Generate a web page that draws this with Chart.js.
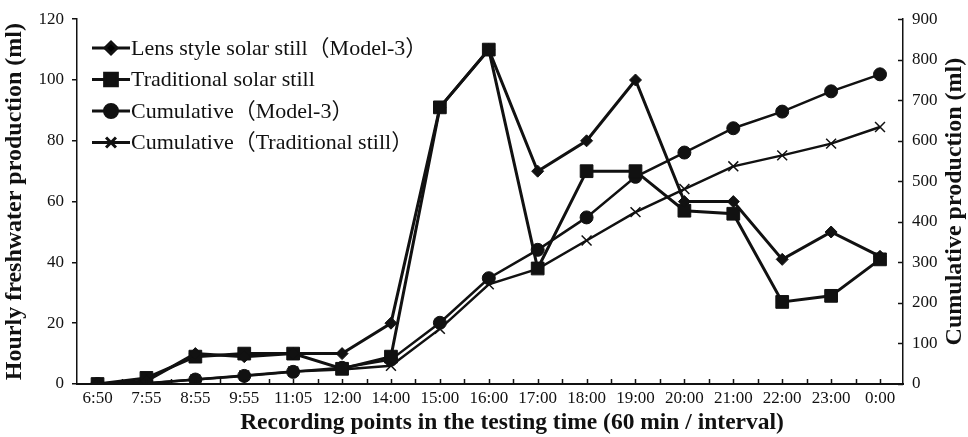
<!DOCTYPE html>
<html>
<head>
<meta charset="utf-8">
<script src="https://cdn.jsdelivr.net/npm/chart.js@4"></script>
<style>
  html, body { margin: 0; padding: 0; background: #fff; }
  #wrap { width: 968px; height: 437px; }
</style>
</head>
<body>
<div id="wrap"><canvas id="chart" width="968" height="437"></canvas></div>
<script>
// ====== DATA ======
const TIMES = ["6:50","7:55","8:55","9:55","11:05","12:00","14:00","15:00","16:00",
  "17:00","18:00","19:00","20:00","21:00","22:00","23:00","0:00"];

const LENS_HOURLY = [0, 1, 10, 9, 10, 10, 20, 91, 110, 70, 80, 100, 60, 60, 41, 50, 42];
const TRAD_HOURLY = [0, 2, 9, 10, 10, 5, 9, 91, 110, 38, 70, 70, 57, 56, 27, 29, 41];
const LENS_CUMUL = [0, 1, 11, 20, 30, 40, 60, 151, 261, 331, 411, 511, 571, 631, 672, 722, 764];
const TRAD_CUMUL = [0, 2, 11, 21, 31, 36, 45, 136, 246, 284, 354, 424, 481, 537, 564, 593, 634];

const LEFT_TICKS = [0, 20, 40, 60, 80, 100, 120];
const RIGHT_TICKS = [0, 100, 200, 300, 400, 500, 600, 700, 800, 900];

const X_TITLE = "Recording points in the testing time (60 min / interval)";
const RIGHT_TITLE = "Cumulative production (ml)";

const SERIF = "'Liberation Serif', 'Times New Roman', 'Noto Sans CJK SC', serif";
const INK = "#111";

const pts = (arr) => arr.map((v, i) => ({ x: i, y: v }));

// inward ticks on bottom + right axes, and the two titles Chart.js can't place like the original
const axisExtras = {
  id: "axisExtras",
  afterDraw(chart) {
    const { ctx, chartArea } = chart;
    const xs = chart.scales.x, yr = chart.scales.y1;
    ctx.save();
    ctx.strokeStyle = INK;
    ctx.lineWidth = 1.5;
    ctx.beginPath();
    for (let i = 0; i <= (TIMES.length - 1) * 2; i++) {
      const px = Math.round(xs.getPixelForValue(i / 2)) + 0.5;
      ctx.moveTo(px, chartArea.bottom);
      ctx.lineTo(px, chartArea.bottom - 5);
    }
    RIGHT_TICKS.forEach(v => {
      const py = Math.round(yr.getPixelForValue(v)) + 0.5;
      ctx.moveTo(chartArea.right, py);
      ctx.lineTo(chartArea.right - 5, py);
    });
    ctx.stroke();

    ctx.fillStyle = INK;
    ctx.textAlign = "center";
    ctx.textBaseline = "middle";

    ctx.font = "bold 23.5px " + SERIF;
    ctx.fillText(X_TITLE, 512, 423);

    ctx.translate(955, (chartArea.top + chartArea.bottom) / 2);
    ctx.rotate(-Math.PI / 2);
    ctx.font = "bold 24px " + SERIF;
    ctx.fillText(RIGHT_TITLE, 0, 0);
    ctx.restore();
  }
};

// legend drawn inside the plot, top-left
const innerLegend = {
  id: "innerLegend",
  afterDatasetsDraw(chart) {
    const { ctx } = chart;
    const x0 = 92, x1 = 130, top = 48, gap = 31.5;
    ctx.save();
    chart.data.datasets.forEach((ds, i) => {
      const y = top + i * gap;
      ctx.strokeStyle = INK;
      ctx.lineWidth = 3;
      ctx.beginPath();
      ctx.moveTo(x0, y);
      ctx.lineTo(x1, y);
      ctx.stroke();
      Chart.helpers.drawPoint(ctx, {
        pointStyle: ds.pointStyle,
        radius: ds.pointRadius,
        borderWidth: ds.pointBorderWidth
      }, (x0 + x1) / 2, y);
      ctx.fillStyle = INK;
      ctx.font = "22px " + SERIF;
      ctx.textBaseline = "middle";
      ctx.fillText(ds.label, x1 + 1, y + 1);
    });
    ctx.restore();
  }
};

const ctx = document.getElementById("chart").getContext("2d");

new Chart(ctx, {
  type: "line",
  data: {
    datasets: [
      {
        label: "Lens style solar still（Model-3）",
        data: pts(LENS_HOURLY),
        yAxisID: "y",
        borderColor: INK, backgroundColor: INK,
        borderWidth: 3,
        pointStyle: "rectRot", pointRadius: 6,
        pointBackgroundColor: INK, pointBorderColor: INK, pointBorderWidth: 1
      },
      {
        label: "Traditional solar still",
        data: pts(TRAD_HOURLY),
        yAxisID: "y",
        borderColor: INK, backgroundColor: INK,
        borderWidth: 3,
        pointStyle: "rect", pointRadius: 9,
        pointBackgroundColor: INK, pointBorderColor: INK, pointBorderWidth: 1
      },
      {
        label: "Cumulative（Model-3）",
        data: pts(LENS_CUMUL),
        yAxisID: "y1",
        borderColor: INK, backgroundColor: INK,
        borderWidth: 2.5,
        pointStyle: "circle", pointRadius: 6.5,
        pointBackgroundColor: INK, pointBorderColor: INK, pointBorderWidth: 1
      },
      {
        label: "Cumulative（Traditional still）",
        data: pts(TRAD_CUMUL),
        yAxisID: "y1",
        borderColor: INK, backgroundColor: INK,
        borderWidth: 2.5,
        pointStyle: "crossRot", pointRadius: 7,
        pointBackgroundColor: INK, pointBorderColor: INK, pointBorderWidth: 1.5
      }
    ]
  },
  options: {
    responsive: false,
    animation: false,
    layout: { padding: { top: 12, left: 0, right: 0, bottom: 0 } },
    plugins: {
      legend: { display: false },
      tooltip: { enabled: false }
    },
    elements: { line: { tension: 0 } },
    scales: {
      x: {
        type: "linear",
        min: -0.42,
        max: 16.47,
        afterBuildTicks: (s) => { s.ticks = TIMES.map((t, i) => ({ value: i })); },
        afterFit: (s) => { s.height = 53; },
        ticks: {
          autoSkip: false, maxRotation: 0, padding: 4,
          color: INK, font: { family: SERIF, size: 17 },
          callback: (v) => TIMES[v] ?? ""
        },
        grid: { drawOnChartArea: false, drawTicks: false },
        border: { display: true, color: INK, width: 2 },
        title: { display: false }
      },
      y: {
        position: "left",
        min: 0, max: 120,
        afterBuildTicks: (s) => { s.ticks = LEFT_TICKS.map(v => ({ value: v })); },
        afterFit: (s) => { s.width = 77; },
        ticks: { color: INK, padding: 8, font: { family: SERIF, size: 17 } },
        grid: { drawOnChartArea: false, drawTicks: true, tickLength: 5, color: INK, lineWidth: 1.5 },
        border: { display: true, color: INK, width: 1.5 },
        title: {
          display: true,
          text: "Hourly freshwater production (ml)",
          color: INK, font: { family: SERIF, size: 24, weight: "bold" },
          padding: { top: 0, bottom: 2 }
        }
      },
      y1: {
        position: "right",
        min: 0, max: 900,
        afterBuildTicks: (s) => { s.ticks = RIGHT_TICKS.map(v => ({ value: v })); },
        afterFit: (s) => { s.width = 65; },
        ticks: { color: INK, padding: 9, font: { family: SERIF, size: 17 } },
        grid: { drawOnChartArea: false, drawTicks: false },
        border: { display: true, color: INK, width: 1.5 },
        title: { display: false }
      }
    }
  },
  plugins: [axisExtras, innerLegend]
});
</script>
</body>
</html>
